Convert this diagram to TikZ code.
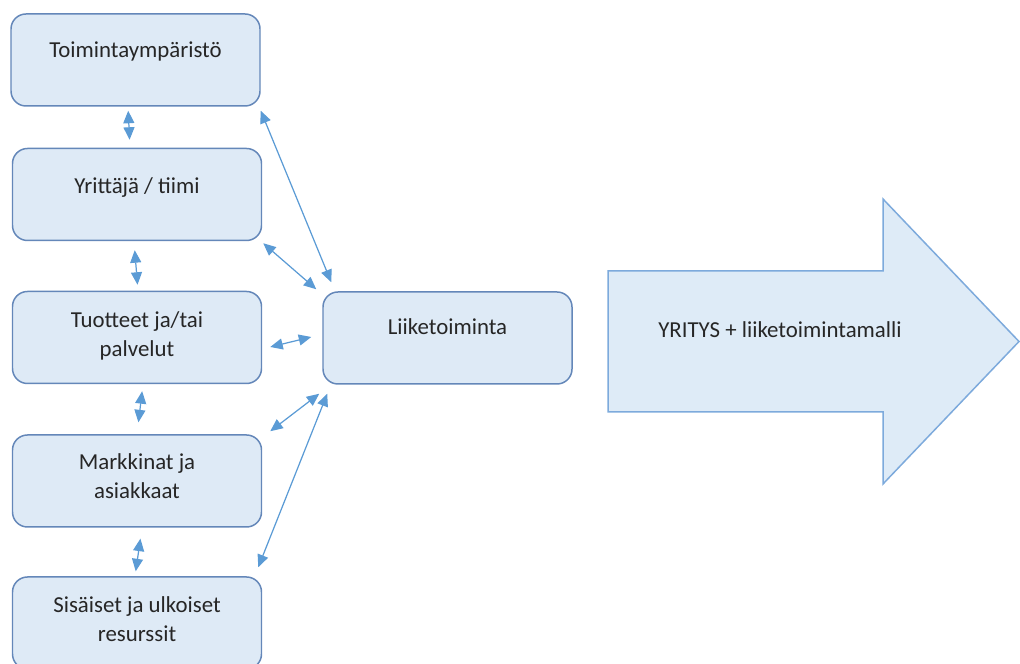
\documentclass[tikz,border=0pt]{standalone}
\usepackage{fontspec}
\setmainfont{Carlito}
\usepackage{xcolor}
\usepackage{tikz}
\usetikzlibrary{calc,arrows.meta}

\definecolor{blockfill}{RGB}{222,234,246}
\definecolor{blockline}{RGB}{100,135,185}
\definecolor{linkblue}{RGB}{91,155,213}
\definecolor{arrowfill}{RGB}{222,235,247}
\definecolor{arrowline}{RGB}{125,170,220}
\definecolor{textgray}{RGB}{38,38,38}

\begin{document}
\begin{tikzpicture}[
    block/.style={draw=blockline, fill=blockfill, line width=0.85pt, rounded corners=0.3cm,
        minimum width=4.98cm, minimum height=1.84cm, inner sep=0pt},
    txt/.style={align=center, text=textgray, font=\fontsize{13pt}{16.5pt}\selectfont},
    link/.style={draw=linkblue, line width=0.7pt,
        {Triangle[length=0.25cm,width=0.22cm]}-{Triangle[length=0.25cm,width=0.22cm]}},
    bigarrow/.style={draw=arrowline, fill=arrowfill, line width=0.85pt}
]
    \clip (0,0) rectangle (20.4,13.28);

    \node[block] (toim) at (2.71,12.08) {};
    \node[block] (yritt) at (2.74,9.39) {};
    \node[block] (tuot) at (2.74,6.53) {};
    \node[block] (mark) at (2.74,3.66) {};
    \node[block] (res) at (2.74,0.82) {};
    \node[block] (liike) at (8.95,6.52) {};

    \node[txt] (toimt) at ([yshift=0.17cm]toim.center) {Toimintaympäristö};
    \node[txt] (yrittt) at ([yshift=0.14cm]yritt.center) {Yrittäjä / tiimi};
    \node[txt] (tuott) at ([yshift=0.03cm]tuot.center) {Tuotteet ja/tai\\palvelut};
    \node[txt] (markt) at ([yshift=0.10cm]mark.center) {Markkinat ja\\asiakkaat};
    \node[txt] (rest) at ([yshift=0.08cm]res.center) {Sisäiset ja ulkoiset\\resurssit};
    \node[txt] (liiket) at ([yshift=0.22cm]liike.center) {Liiketoiminta};

    \draw[link, shorten <=0.08cm, shorten >=0.16cm] ([xshift=-0.15cm]toim.south) -- ([xshift=-0.14cm]yritt.north);
    \draw[link, shorten <=0.18cm, shorten >=0.12cm] ([xshift=-0.06cm]yritt.south) -- ([xshift=0.02cm]tuot.north);
    \draw[link, shorten <=0.14cm, shorten >=0.24cm] ([xshift=0.12cm]tuot.south) -- (mark.north);
    \draw[link, shorten <=0.22cm, shorten >=0.10cm] ([xshift=0.10cm]mark.south) -- ([xshift=-0.04cm]res.north);

    \draw[link] ([yshift=-0.08cm]toim.south east) -- ([shift={(0.18,0.18)}]liike.north west);
    \draw[link] ([shift={(0.02,-0.04)}]yritt.south east) -- ([shift={(-0.12,0.04)}]liike.north west);
    \draw[link] ([shift={(0.16,-0.19)}]tuot.east) -- ([shift={(-0.22,0.02)}]liike.west);
    \draw[link] ([shift={(0.16,0.06)}]mark.north east) -- ([shift={(-0.06,-0.18)}]liike.south west);
    \draw[link] ([shift={(-0.08,0.18)}]res.north east) -- ([shift={(0.10,-0.18)}]liike.south west);

    \draw[bigarrow] (12.16,7.86) -- (17.66,7.86) -- (17.66,9.30) -- (20.38,6.45)
        -- (17.66,3.60) -- (17.66,5.04) -- (12.16,5.04) -- cycle;
    \node[txt, anchor=base] (yritys) at (15.6,6.52) {YRITYS + liiketoimintamalli};
\end{tikzpicture}
\end{document}
